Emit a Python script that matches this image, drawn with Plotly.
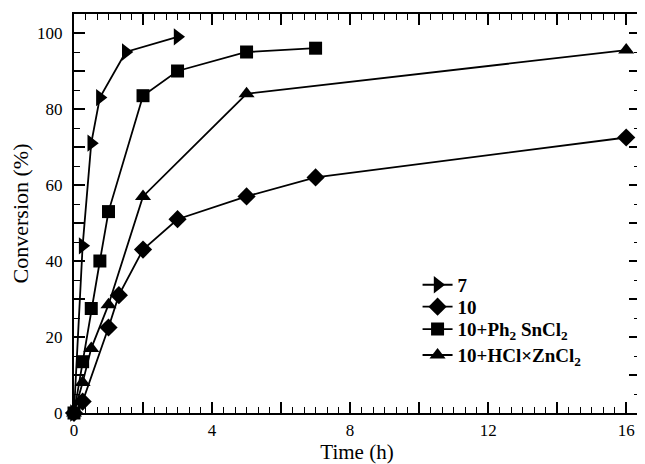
import plotly.graph_objects as go

# Data
t7 = [0, 0.25, 0.5, 0.75, 1.5, 3]
c7 = [0, 44, 71, 83, 95, 99]

t10 = [0, 0.25, 1, 1.3, 2, 3, 5, 7, 16]
c10 = [0, 3, 22.5, 31, 43, 51, 57, 62, 72.5]

tSn = [0, 0.25, 0.5, 0.75, 1, 2, 3, 5, 7]
cSn = [0, 13.5, 27.5, 40, 53, 83.5, 90, 95, 96]

tZn = [0, 0.25, 0.5, 1, 2, 5, 16]
cZn = [0, 8, 17, 28.5, 57, 84, 95.5]

names = ["7", "10", "10+Ph<sub>2</sub> SnCl<sub>2</sub>", "10+HCl×ZnCl<sub>2</sub>"]
symbols = ["triangle-right", "diamond", "square", "triangle-up"]
sizes = [15, 14, 13, 14]

x_ticks = [0, 2, 4, 6, 8, 10, 12, 14, 16]
x_labels = ["0", "", "4", "", "8", "", "12", "", "16"]
y_ticks = [0, 10, 20, 30, 40, 50, 60, 70, 80, 90, 100]
y_labels = ["0", "", "20", "", "40", "", "60", "", "80", "", "100"]

legend_ids = ["legend", "legend2", "legend3", "legend4"]
legend_y = [0.321, 0.266, 0.210, 0.145]

fig = go.Figure()
for xs, ys, nm, sym, sz, lg in zip([t7, t10, tSn, tZn], [c7, c10, cSn, cZn],
                                   names, symbols, sizes, legend_ids):
    fig.add_trace(go.Scatter(
        x=xs, y=ys, name=nm, mode="lines+markers",
        line=dict(color="black", width=1.8),
        marker=dict(symbol=sym, size=sz, color="black"),
        cliponaxis=False, legend=lg,
    ))

font_family = "Liberation Serif"
legend_common = dict(x=0.607, xanchor="left", yanchor="middle",
                     font=dict(family=font_family, size=19, weight="bold"),
                     bgcolor="rgba(0,0,0,0)", itemwidth=30)
# page body has an 8px margin, so figure is offset by 8px
fig.update_layout(
    width=637, height=456,
    margin=dict(l=66, r=3, t=6, b=51),
    paper_bgcolor="white", plot_bgcolor="white",
    font=dict(family=font_family, size=17, color="black"),
    showlegend=True,
    legend=dict(y=legend_y[0], **legend_common),
    legend2=dict(y=legend_y[1], **legend_common),
    legend3=dict(y=legend_y[2], **legend_common),
    legend4=dict(y=legend_y[3], **legend_common),
)
fig.update_xaxes(
    range=[0, 16.4], showgrid=False, zeroline=False,
    showline=True, linecolor="black", linewidth=2, mirror="ticks",
    ticks="inside", ticklen=11, tickwidth=1.5, tickcolor="black",
    tickmode="array", tickvals=x_ticks, ticktext=x_labels,
    tickfont=dict(size=17), ticklabelstandoff=1,
    minor=dict(ticks="inside", ticklen=6, tickwidth=1.2, tickcolor="black",
               tickmode="linear", tick0=0, dtick=1/3),
    title=dict(text="Time (h)", font=dict(size=21), standoff=5),
)
fig.update_yaxes(
    range=[0, 105], showgrid=False, zeroline=False,
    showline=True, linecolor="black", linewidth=2, mirror="ticks",
    ticks="inside", ticklen=11, tickwidth=1.5, tickcolor="black",
    tickmode="array", tickvals=y_ticks, ticktext=y_labels,
    tickfont=dict(size=17), ticklabelstandoff=6,
    minor=dict(ticks="inside", ticklen=6, tickwidth=1.2, tickcolor="black",
               tickmode="linear", tick0=0, dtick=5),
    title=dict(text="Conversion (%)", font=dict(size=22), standoff=6),
)

fig.write_html("out.html")
